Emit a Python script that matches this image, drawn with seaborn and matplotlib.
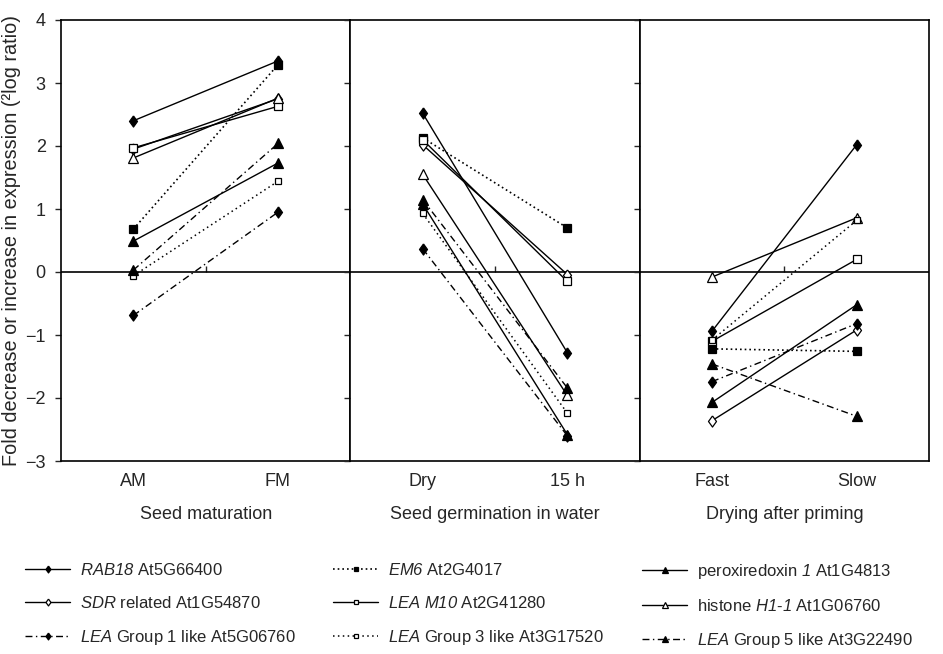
import matplotlib
matplotlib.use("Agg")
import matplotlib.pyplot as plt
import numpy as np
import pandas as pd
import seaborn as sns

# ---- data: 2log expression ratios for each gene in three experiments ----
groups = ["Seed maturation", "Seed germination in water", "Drying after priming"]
stages = [["AM", "FM"], ["Dry", "15 h"], ["Fast", "Slow"]]

# values ordered as AM, FM, Dry, 15 h, Fast, Slow
rab18 = [2.40, 3.35, 2.52, -1.28, -0.94, 2.02]
em6 = [0.68, 3.29, 2.13, 0.70, -1.22, -1.26]
perox1 = [0.49, 1.73, 1.08, -2.58, -2.07, -0.52]
sdr = [1.95, 2.75, 2.02, -0.04, -2.36, -0.92]
lea_m10 = [1.97, 2.63, 2.10, -0.15, -1.10, 0.20]
histone = [1.81, 2.76, 1.55, -1.96, -0.08, 0.86]
lea_g1 = [-0.69, 0.95, 0.37, -2.60, -1.74, -0.82]
lea_g3 = [-0.06, 1.44, 0.93, -2.24, -1.08, 0.82]
lea_g5 = [0.03, 2.04, 1.15, -1.84, -1.46, -2.29]

gene_keys = ["RAB18", "EM6", "PRX1", "SDR", "LEAM10", "H1-1", "LEA1", "LEA3", "LEA5"]
gene_values = [rab18, em6, perox1, sdr, lea_m10, histone, lea_g1, lea_g3, lea_g5]
# gene names are set in italics (mathtext rm is mapped to the italic face)
gene_labels = [
    r"$\mathrm{RAB18}$ At5G66400",
    r"$\mathrm{EM6}$ At2G4017",
    r"peroxiredoxin $\mathrm{1}$ At1G4813",
    r"$\mathrm{SDR}$ related At1G54870",
    r"$\mathrm{LEA\ M10}$ At2G41280",
    r"histone $\mathrm{H1}$-$\mathrm{1}$ At1G06760",
    r"$\mathrm{LEA}$ Group 1 like At5G06760",
    r"$\mathrm{LEA}$ Group 3 like At3G17520",
    r"$\mathrm{LEA}$ Group 5 like At3G22490",
]

rows = []
for key, vals in zip(gene_keys, gene_values):
    k = 0
    for g, st in zip(groups, stages):
        for s in st:
            rows.append({"gene": key, "group": g, "stage": s, "value": vals[k]})
            k += 1
df = pd.DataFrame(rows)

# ---- line / marker styles ----
tall_diamond = [(0, 1), (0.72, 0), (0, -1), (-0.72, 0), (0, 1)]
dashdot = (0, (5, 2.5, 1, 2.5))
styles = {
    "RAB18": dict(marker=tall_diamond, mfc="black", ls="-", lw=1.0, ms=8.0),
    "EM6": dict(marker="s", mfc="black", ls=(0, (1, 1.8)), lw=1.2, ms=5.5),
    "PRX1": dict(marker="^", mfc="black", ls="-", lw=1.0, ms=6.8),
    "SDR": dict(marker=tall_diamond, mfc="white", ls="-", lw=1.0, ms=8.0),
    "LEAM10": dict(marker="s", mfc="white", ls="-", lw=1.0, ms=5.5),
    "H1-1": dict(marker="^", mfc="white", ls="-", lw=1.0, ms=6.8),
    "LEA1": dict(marker=tall_diamond, mfc="black", ls=dashdot, lw=1.0, ms=8.0),
    "LEA3": dict(marker="s", mfc="white", ls=(0, (1, 2.2)), lw=1.1, ms=5.0),
    "LEA5": dict(marker="^", mfc="black", ls=dashdot, lw=1.0, ms=6.8),
}

sns.set_style("ticks")
plt.rcParams["font.family"] = ["Liberation Sans", "DejaVu Sans"]
plt.rcParams["mathtext.fontset"] = "custom"
plt.rcParams["mathtext.rm"] = "Liberation Sans:italic"
plt.rcParams["mathtext.it"] = "Liberation Sans:italic"
plt.rcParams["mathtext.bf"] = "Liberation Sans:bold"
plt.rcParams["axes.unicode_minus"] = True

W, H = 943, 654
fig = plt.figure(figsize=(W / 100, H / 100), dpi=100)
gs = fig.add_gridspec(1, 3, left=61 / W, right=929 / W, top=1 - 20 / H,
                      bottom=1 - 461 / H, wspace=0)
axes = [fig.add_subplot(gs[0, i]) for i in range(3)]

ymin, ymax = -3, 4
handles = []
for i, (ax, g, st) in enumerate(zip(axes, groups, stages)):
    sub = df[df["group"] == g]
    ax.axhline(0, color="black", lw=1.2, zorder=1)
    for key, lab in zip(gene_keys, gene_labels):
        s = styles[key]
        d = sub[sub["gene"] == key]
        sns.lineplot(data=d, x="stage", y="value", ax=ax, color="black",
                     marker=s["marker"], markerfacecolor=s["mfc"],
                     markeredgecolor="black", markeredgewidth=0.9,
                     markersize=s["ms"], linestyle=s["ls"], lw=s["lw"],
                     sort=False, errorbar=None, label=lab, legend=False,
                     zorder=3)
    ax.set_xlim(-0.5, 1.5)
    ax.set_ylim(ymin, ymax)
    ax.set_yticks(range(ymin, ymax + 1))
    ax.set_xticks([0, 1])
    ax.set_xticklabels(st)
    ax.tick_params(axis="x", length=0, pad=9, labelsize=13)
    ax.tick_params(axis="y", direction="out", length=4, width=1.0,
                   labelsize=13, pad=7, left=True)
    ax.set_xlabel(g, fontsize=13, labelpad=11)
    ax.set_ylabel("")
    for sp in ax.spines.values():
        sp.set_visible(True)
        sp.set_color("black")
        sp.set_linewidth(1.2)
    if i > 0:
        ax.tick_params(axis="y", labelleft=False)
    # category-boundary tick on the zero line
    sec = ax.secondary_xaxis((0 - ymin) / (ymax - ymin))
    sec.set_xticks([0.5])
    sec.set_xticklabels([""])
    sec.tick_params(axis="x", direction="in", length=4, width=1.0)
    for sp in sec.spines.values():
        sp.set_visible(False)
    if i == 0:
        handles, labels = ax.get_legend_handles_labels()

axes[0].set_ylabel("Fold decrease or increase in expression (\u00b2log ratio)",
                   fontsize=14.3, labelpad=3)

# ---- legend: three columns, three rows ----
col_x = [25, 333, 642]
for c in range(3):
    idx = [3 * r + c for r in range(3)]
    fig.legend([handles[j] for j in idx], [labels[j] for j in idx],
               loc="upper left", bbox_to_anchor=(col_x[c] / W, 1 - 562 / H),
               frameon=False, fontsize=12, handlelength=2.7,
               handletextpad=0.6, labelspacing=1.02, borderpad=0,
               borderaxespad=0, markerscale=0.62)

fig.savefig("out.png", dpi=100)
